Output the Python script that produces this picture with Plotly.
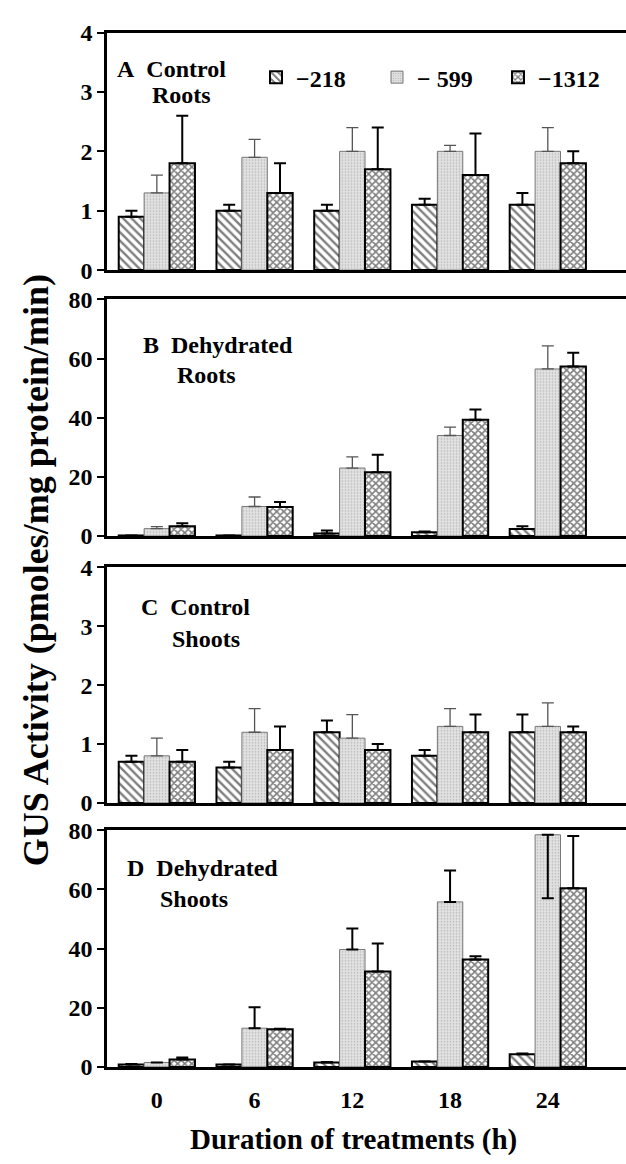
import plotly.graph_objects as go

# ---------------- data ----------------
hours = ["0", "6", "12", "18", "24"]
series_names = ["\u2212218", "\u2212 599", "\u22121312"]

# Panel A: Control roots
A_218 = [0.9, 1.0, 1.0, 1.1, 1.1]
A_218_err = [0.1, 0.1, 0.1, 0.1, 0.2]
A_599 = [1.3, 1.9, 2.0, 2.0, 2.0]
A_599_err = [0.3, 0.3, 0.4, 0.1, 0.4]
A_1312 = [1.8, 1.3, 1.7, 1.6, 1.8]
A_1312_err = [0.8, 0.5, 0.7, 0.7, 0.2]

# Panel B: Dehydrated roots
B_218 = [0.2, 0.2, 0.9, 1.3, 2.4]
B_218_err = [0.0, 0.0, 1.0, 0.2, 0.9]
B_599 = [2.5, 10.0, 23.0, 34.0, 56.5]
B_599_err = [0.7, 3.2, 3.8, 2.8, 7.8]
B_1312 = [3.3, 9.8, 21.6, 39.3, 57.3]
B_1312_err = [1.0, 1.7, 5.9, 3.5, 4.7]

# Panel C: Control shoots
C_218 = [0.7, 0.6, 1.2, 0.8, 1.2]
C_218_err = [0.1, 0.1, 0.2, 0.1, 0.3]
C_599 = [0.8, 1.2, 1.1, 1.3, 1.3]
C_599_err = [0.3, 0.4, 0.4, 0.3, 0.4]
C_1312 = [0.7, 0.9, 0.9, 1.2, 1.2]
C_1312_err = [0.2, 0.4, 0.1, 0.3, 0.1]

# Panel D: Dehydrated shoots
D_218 = [0.8, 0.8, 1.5, 1.8, 4.3]
D_218_err = [0.2, 0.0, 0.2, 0.0, 0.2]
D_599 = [1.5, 13.1, 39.7, 55.8, 78.5]
D_599_err = [0.0, 7.1, 7.1, 10.6, 0.0]
D_599_err_minus = [0.0, 0.0, 0.0, 0.0, 21.5]
D_1312 = [2.5, 12.7, 32.3, 36.3, 60.4]
D_1312_err = [0.7, 0.2, 9.4, 1.1, 17.7]

panel_titles = [("A\u00a0\u00a0Control", "Roots"), ("B\u00a0\u00a0Dehydrated", "Roots"),
                ("C\u00a0\u00a0Control", "Shoots"), ("D\u00a0\u00a0Dehydrated", "Shoots")]
y_ticks_small = [0, 1, 2, 3, 4]
y_ticks_large = [0, 20, 40, 60, 80]

# ---------------- styling ----------------
W, H = 626, 1164
FONT = "Liberation Serif"

styles = [
    dict(color="white", line=dict(color="black", width=2),
         pattern=dict(shape="\\", fgcolor="black", bgcolor="white", size=6, solidity=0.4)),
    dict(color="#dcdcdc", line=dict(color="#777777", width=1),
         pattern=dict(shape=".", fgcolor="#8a8a8a", bgcolor="#e2e2e2", size=3, solidity=0.25)),
    dict(color="white", line=dict(color="black", width=2),
         pattern=dict(shape="x", fgcolor="black", bgcolor="white", size=5, solidity=0.55)),
]
err_styles = [dict(color="black", thickness=2, width=6),
              dict(color="#555555", thickness=1.3, width=6),
              dict(color="black", thickness=2, width=6)]

panels = [
    ([A_218, A_599, A_1312], [A_218_err, A_599_err, A_1312_err], [None, None, None]),
    ([B_218, B_599, B_1312], [B_218_err, B_599_err, B_1312_err], [None, None, None]),
    ([C_218, C_599, C_1312], [C_218_err, C_599_err, C_1312_err], [None, None, None]),
    ([D_218, D_599, D_1312], [D_218_err, D_599_err, D_1312_err], [None, D_599_err_minus, None]),
]

# pixel layout of panels (top, bottom)
panel_px = [(20, 263), (293, 535), (567, 808), (836, 1078)]
x_left_px, x_right_px = 107, 626

fig = go.Figure()
for p, (vals, errs, errm) in enumerate(panels):
    ax = "" if p == 0 else str(p + 1)
    for s in range(3):
        ey = dict(type="data", array=errs[s], visible=True, **err_styles[s])
        if errm[s] is not None:
            ey.update(symmetric=False, arrayminus=errm[s])
            ey["color"] = "black"
            ey["thickness"] = 2
        else:
            ey.update(symmetric=False, arrayminus=[0] * len(errs[s]))
        fig.add_trace(go.Bar(
            x=hours, y=vals[s], name=series_names[s], legendgroup=series_names[s],
            showlegend=(p == 0), marker=styles[s], error_y=ey,
            xaxis="x" + ax, yaxis="y" + ax,
        ))

tickfont = dict(family=FONT, size=24, color="black", weight="bold")
layout = dict(
    width=W, height=H, margin=dict(l=0, r=0, t=0, b=0),
    paper_bgcolor="white", plot_bgcolor="white",
    barmode="group", bargap=0.22, bargroupgap=0,
    font=dict(family=FONT, color="black"),
    showlegend=True,
    legend=dict(orientation="h", x=256 / W, y=1 - 66 / H, xanchor="left", yanchor="middle",
                font=dict(family=FONT, size=24, color="black", weight="bold"),
                entrywidth=76, entrywidthmode="pixels", itemwidth=30,
                bgcolor="rgba(0,0,0,0)", tracegroupgap=0),
)
for p in range(4):
    ax = "" if p == 0 else str(p + 1)
    top, bot = panel_px[p]
    small = p in (0, 2)
    layout["xaxis" + ax] = dict(
        domain=[x_left_px / W, x_right_px / W], anchor="y" + ax,
        range=[-0.51, 4.80], type="category",
        showline=True, linecolor="black", linewidth=2.5, mirror=True,
        ticks="", showticklabels=(p == 3), tickfont=tickfont,
        ticklabelstandoff=10, showgrid=False, zeroline=False,
        matches=None if p == 0 else "x",
    )
    layout["yaxis" + ax] = dict(
        domain=[1 - bot / H, 1 - top / H], anchor="x" + ax,
        range=[0, 4] if small else [0, 80],
        tickvals=y_ticks_small if small else y_ticks_large,
        showline=True, linecolor="black", linewidth=2.5, mirror=False,
        ticks="outside", ticklen=7, tickwidth=1.5, tickcolor="black",
        tickfont=tickfont, showgrid=False, zeroline=False,
    )
fig.update_layout(**layout)

# panel labels
label_pos = [((115, 57), (150, 84)), ((141, 340), (175, 370)),
             ((139, 608), (170, 640)), ((125, 875), (158, 906))]
anns = []
for (l1, l2), ((x1, y1), (x2, y2)) in zip(panel_titles, label_pos):
    for txt, xx, yy in ((l1, x1, y1), (l2, x2, y2)):
        anns.append(dict(text=txt, x=xx / W, y=1 - yy / H, xref="paper", yref="paper",
                         xanchor="left", yanchor="middle", showarrow=False,
                         font=dict(family=FONT, size=24, color="black", weight="bold")))
anns.append(dict(text="GUS Activity (pmoles/mg protein/min)", x=36 / W, y=1 - 570 / H,
                 xref="paper", yref="paper", xanchor="center", yanchor="middle",
                 textangle=-90, showarrow=False,
                 font=dict(family=FONT, size=36, color="black", weight="bold")))
anns.append(dict(text="Duration of treatments (h)", x=353 / W, y=1 - 1152 / H,
                 xref="paper", yref="paper", xanchor="center", yanchor="middle",
                 showarrow=False,
                 font=dict(family=FONT, size=29, color="black", weight="bold")))
fig.update_layout(annotations=anns)

fig.write_html("out.html")
